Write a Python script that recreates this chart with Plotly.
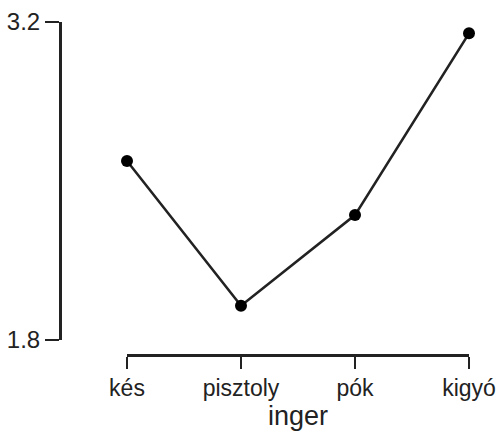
import plotly.graph_objects as go

categories = ["kés", "pisztoly", "pók", "kigyó"]
values = [2.588, 1.951, 2.35, 3.15]
y_ticks = [1.8, 3.2]
y_tick_labels = ["1.8", "3.2"]
x_title = "inger"

W, H = 498, 433
ink = "#222222"


def px(x):
    return x / W


def py(y):
    return 1 - y / H


fig = go.Figure()
fig.add_trace(go.Scatter(
    x=categories, y=values, mode="lines+markers",
    line=dict(color=ink, width=2.6),
    marker=dict(color="#000000", size=12),
    cliponaxis=False, showlegend=False, hoverinfo="skip",
))

fig.update_layout(
    width=W, height=H,
    margin=dict(l=0, r=0, t=0, b=0),
    paper_bgcolor="white", plot_bgcolor="white",
    font=dict(family="Liberation Sans, Arial, sans-serif", color=ink),
    xaxis=dict(
        type="category",
        domain=[px(127), px(469)],
        anchor="free", position=py(355),
        range=[0, 3],
        showline=True, linecolor=ink, linewidth=2.6,
        ticks="outside", ticklen=12, tickwidth=2, tickcolor=ink,
        showgrid=False, zeroline=False,
        tickfont=dict(size=23, color=ink),
        title=dict(text=x_title, font=dict(size=27, color=ink), standoff=0),
        automargin=False,
    ),
    yaxis=dict(
        domain=[py(340), py(22)],
        anchor="free", position=px(60),
        range=[1.8, 3.2],
        tickvals=y_ticks, ticktext=y_tick_labels,
        showline=True, linecolor=ink, linewidth=2.6,
        ticks="outside", ticklen=14, tickwidth=2.6, tickcolor=ink,
        showgrid=False, zeroline=False,
        tickfont=dict(size=24, color=ink),
        automargin=False,
    ),
)

fig.write_html(
    "out.html",
    config={"displayModeBar": False, "staticPlot": True},
    post_script="document.body.style.margin='0';document.body.style.overflow='hidden';",
)
